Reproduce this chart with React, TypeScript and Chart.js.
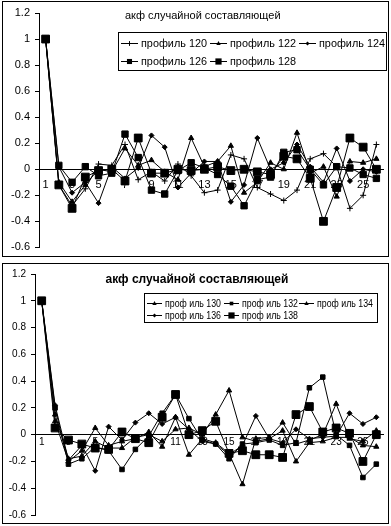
import React, { useEffect, useRef } from 'react';
import { Chart, registerables } from 'chart.js';

Chart.register(...registerables);

const FONT = '"Liberation Sans", Arial, sans-serif';

// Categories (lag numbers)
const categories = ['1','2','3','4','5','6','7','8','9','10','11','12','13','14','15','16','17','18','19','20','21','22','23','24','25','26'];

// Y-axis tick labels (both charts)
const yTickLabels = ['-0.6','-0.4','-0.2','0','0.2','0.4','0.6','0.8','1','1.2'];

// Top chart titles / series names
const topTitle = 'акф случайной составляющей';
const topNames = ['профиль 120', 'профиль 122', 'профиль 124', 'профиль 126', 'профиль 128'];
const p120 = [1, -0.12, -0.28, -0.15, 0.04, 0.03, 0.19, -0.08, -0.02, -0.09, 0.04, -0.05, -0.18, -0.16, 0.11, 0.08, -0.14, -0.19, -0.24, -0.16, 0.08, 0.12, 0.02, -0.30, -0.20, 0.19];
const p122 = [1, -0.10, -0.25, -0.12, 0.0, -0.02, 0.16, 0.03, 0.07, -0.02, -0.08, 0.24, 0.02, 0.06, 0.18, -0.18, -0.10, 0.05, 0.0, 0.28, -0.03, 0.02, -0.21, 0.06, 0.05, 0.08];
const p124 = [1, 0.02, -0.18, -0.10, -0.26, 0.02, -0.07, 0.01, 0.26, 0.17, -0.14, -0.03, 0.06, 0.06, -0.25, -0.12, 0.24, 0.0, 0.05, 0.19, 0.02, -0.10, 0.16, -0.09, 0.0, -0.02];
const p126 = [1, 0.03, -0.10, 0.02, -0.05, -0.03, 0.27, 0.09, -0.16, -0.19, -0.01, 0.05, 0.01, -0.04, -0.13, -0.28, -0.08, -0.06, 0.13, 0.15, 0.0, -0.12, 0.02, 0.01, -0.04, -0.07];
const p128 = [1, -0.12, -0.30, -0.06, -0.01, 0.0, -0.09, 0.24, -0.03, -0.03, 0.0, -0.01, 0.0, 0.02, -0.01, 0.0, -0.02, -0.04, 0.10, 0.08, -0.07, -0.40, -0.14, 0.24, 0.17, 0.0];

// Bottom chart
const bottomTitle = 'акф случайной составляющей';
const bottomNames = ['проф иль 130', 'проф иль 132', 'проф иль 134', 'проф иль 136', 'проф иль 138'];
const p130 = [1, 0.10, -0.20, -0.12, 0.05, -0.08, -0.05, -0.03, 0.02, -0.09, 0.13, -0.15, -0.03, -0.06, -0.14, -0.37, -0.03, -0.02, 0.09, -0.07, -0.04, 0.0, 0.23, -0.03, -0.05, 0.03];
const p132 = [1, 0.20, -0.22, -0.18, -0.09, -0.12, -0.26, -0.11, -0.01, 0.16, 0.30, 0.12, -0.04, -0.07, -0.18, -0.07, -0.06, -0.04, -0.08, -0.06, 0.35, 0.43, 0.0, -0.08, -0.32, -0.22];
const p134 = [1, 0.15, -0.18, -0.16, -0.05, -0.10, -0.10, -0.02, 0.0, -0.05, 0.04, 0.05, 0.0, 0.15, 0.33, -0.02, -0.05, -0.03, 0.03, -0.20, -0.06, -0.05, -0.02, -0.02, -0.08, -0.09];
const p136 = [1, 0.22, -0.19, -0.08, -0.27, 0.06, -0.04, 0.09, 0.16, 0.08, 0.13, 0.04, -0.05, -0.07, -0.15, -0.08, 0.14, -0.03, -0.06, 0.04, -0.03, -0.02, -0.01, 0.16, 0.08, 0.13];
const p138 = [1, 0.05, -0.04, -0.07, -0.10, -0.11, 0.02, -0.03, -0.06, 0.13, 0.30, 0.0, 0.03, 0.10, -0.14, -0.12, -0.15, -0.15, -0.17, 0.15, 0.21, 0.02, 0.05, 0.01, -0.20, 0.0];

type Marker = { style: string; r: number };

function drawMarker(ctx: CanvasRenderingContext2D, style: string, r: number, x: number, y: number) {
  ctx.save();
  ctx.fillStyle = '#000';
  ctx.strokeStyle = '#000';
  ctx.lineWidth = 1;
  ctx.beginPath();
  if (style === 'rect') {
    const s = Math.SQRT1_2 * r;
    ctx.rect(x - s, y - s, 2 * s, 2 * s);
    ctx.fill();
  } else if (style === 'triangle') {
    ctx.moveTo(x, y - r);
    ctx.lineTo(x + r * 0.9, y + r * 0.6);
    ctx.lineTo(x - r * 0.9, y + r * 0.6);
    ctx.closePath();
    ctx.fill();
  } else if (style === 'rectRot') {
    ctx.moveTo(x, y - r);
    ctx.lineTo(x + r, y);
    ctx.lineTo(x, y + r);
    ctx.lineTo(x - r, y);
    ctx.closePath();
    ctx.fill();
  } else if (style === 'cross') {
    ctx.moveTo(x - r, y);
    ctx.lineTo(x + r, y);
    ctx.moveTo(x, y - r);
    ctx.lineTo(x, y + r);
    ctx.stroke();
  } else {
    ctx.arc(x, y, r, 0, Math.PI * 2);
    ctx.fill();
  }
  ctx.restore();
}

type Deco = {
  frame: [number, number, number, number];
  title: string;
  titleFont: string;
  titleX: number;
  titleY: number;
  titleAlign: CanvasTextAlign;
  legendBox: [number, number, number, number];
  legendCols: number[];
  legendRows: number[];
  sampleLen: number;
  legendFont: string;
  textMaxWidth: number;
  names: string[];
  markers: Marker[];
};

function decoPlugin(d: Deco) {
  return {
    id: 'deco',
    beforeDraw(chart: any) {
      const ctx: CanvasRenderingContext2D = chart.ctx;
      ctx.save();
      ctx.fillStyle = '#fff';
      ctx.fillRect(0, 0, chart.width, chart.height);
      ctx.strokeStyle = '#000';
      ctx.lineWidth = 1;
      ctx.strokeRect(d.frame[0], d.frame[1], d.frame[2], d.frame[3]);
      ctx.restore();
    },
    afterDraw(chart: any) {
      const ctx: CanvasRenderingContext2D = chart.ctx;
      ctx.save();
      ctx.fillStyle = '#000';
      ctx.font = d.titleFont;
      ctx.textAlign = d.titleAlign;
      ctx.textBaseline = 'middle';
      ctx.fillText(d.title, d.titleX, d.titleY);
      const [bx, by, bw, bh] = d.legendBox;
      ctx.fillStyle = '#fff';
      ctx.fillRect(bx, by, bw, bh);
      ctx.strokeStyle = '#000';
      ctx.lineWidth = 1;
      ctx.strokeRect(bx, by, bw, bh);
      ctx.font = d.legendFont;
      ctx.textAlign = 'left';
      d.names.forEach((name, i) => {
        const col = i % d.legendCols.length;
        const row = Math.floor(i / d.legendCols.length);
        const x = d.legendCols[col];
        const y = d.legendRows[row];
        ctx.strokeStyle = '#000';
        ctx.beginPath();
        ctx.moveTo(x, y + 0.5);
        ctx.lineTo(x + d.sampleLen, y + 0.5);
        ctx.stroke();
        drawMarker(ctx, d.markers[i].style, d.markers[i].r * 0.8, x + d.sampleLen / 2, y + 0.5);
        ctx.fillStyle = '#000';
        ctx.fillText(name, x + d.sampleLen + 3, y + 1, d.textMaxWidth);
      });
      ctx.restore();
    },
  };
}

function makeDatasets(series: number[][], names: string[], markers: Marker[]) {
  return series.map((data, i) => ({
    label: names[i],
    data,
    borderColor: '#000',
    borderWidth: 1,
    backgroundColor: '#000',
    pointStyle: markers[i].style,
    pointRadius: markers[i].r,
    pointBorderWidth: 1,
    pointBorderColor: '#000',
    pointBackgroundColor: '#000',
    tension: 0,
  }));
}

function fmt(v: number) {
  const r = Math.round(v * 10) / 10;
  const s = String(r === 0 ? 0 : r);
  return yTickLabels.includes(s) ? s : s;
}

function makeConfig(opts: {
  series: number[][];
  names: string[];
  markers: Marker[];
  deco: Deco;
  padding: { top: number; bottom: number; right: number; left: number };
  yWidth: number;
  tickFontSize: number;
  xPad: number;
}) {
  return {
    type: 'line' as const,
    data: { labels: categories, datasets: makeDatasets(opts.series, opts.names, opts.markers) },
    options: {
      animation: false as const,
      responsive: false,
      maintainAspectRatio: false,
      layout: { padding: opts.padding },
      plugins: { legend: { display: false }, tooltip: { enabled: false }, title: { display: false } },
      elements: { line: { tension: 0 } },
      scales: {
        x: {
          type: 'category' as const,
          offset: true,
          position: { y: 0 },
          grid: { display: true, drawOnChartArea: false, drawTicks: false },
          border: { display: true, color: '#000', width: 1 },
          ticks: {
            autoSkip: false,
            maxRotation: 0,
            padding: opts.xPad,
            color: '#000',
            font: { family: FONT, size: opts.tickFontSize },
            callback: (_v: any, i: number) => (i % 2 === 0 ? categories[i] : ''),
          },
        },
        y: {
          min: -0.6,
          max: 1.2,
          ticks: {
            stepSize: 0.2,
            color: '#000',
            padding: 5,
            font: { family: FONT, size: opts.tickFontSize },
            callback: (v: any) => fmt(Number(v)),
          },
          grid: { display: true, drawOnChartArea: false, drawTicks: true, tickLength: 4, color: '#000' },
          border: { display: true, color: '#000', width: 1 },
          afterFit: (s: any) => { s.width = opts.yWidth; },
        },
      },
    },
    plugins: [decoPlugin(opts.deco)],
  };
}

export default function App() {
  const topRef = useRef<HTMLCanvasElement>(null);
  const botRef = useRef<HTMLCanvasElement>(null);

  useEffect(() => {
    document.body.style.margin = '0';
    const topMarkers: Marker[] = [
      { style: 'cross', r: 3 },
      { style: 'triangle', r: 3 },
      { style: 'rectRot', r: 2.5 },
      { style: 'rect', r: 4.5 },
      { style: 'rect', r: 5.5 },
    ];
    const botMarkers: Marker[] = [
      { style: 'triangle', r: 3 },
      { style: 'rect', r: 3.2 },
      { style: 'triangle', r: 3 },
      { style: 'rectRot', r: 2.5 },
      { style: 'rect', r: 5.5 },
    ];
    const c1 = new Chart(topRef.current as HTMLCanvasElement, makeConfig({
      series: [p120, p122, p124, p126, p128],
      names: topNames,
      markers: topMarkers,
      padding: { top: 13, bottom: 11, right: 8, left: 0 },
      yWidth: 39,
      tickFontSize: 11,
      xPad: 9,
      deco: {
        frame: [2.5, 1.5, 386, 255],
        title: topTitle,
        titleFont: `11px ${FONT}`,
        titleX: 125,
        titleY: 16,
        titleAlign: 'left',
        legendBox: [118.5, 32.5, 268, 38],
        legendCols: [121, 210, 299],
        legendRows: [43, 61],
        sampleLen: 17,
        legendFont: `11px ${FONT}`,
        textMaxWidth: 66,
        names: topNames,
        markers: topMarkers,
      },
    }) as any);
    const c2 = new Chart(botRef.current as HTMLCanvasElement, makeConfig({
      series: [p130, p132, p134, p136, p138],
      names: bottomNames,
      markers: botMarkers,
      padding: { top: 13, bottom: 10, right: 8, left: 0 },
      yWidth: 35,
      tickFontSize: 10,
      xPad: 2,
      deco: {
        frame: [2.5, 2.5, 386, 260],
        title: bottomTitle,
        titleFont: `bold 12px ${FONT}`,
        titleX: 197,
        titleY: 19,
        titleAlign: 'center',
        legendBox: [144.5, 32.5, 233, 29],
        legendCols: [147, 224, 299],
        legendRows: [42, 54],
        sampleLen: 15,
        legendFont: `10px ${FONT}`,
        textMaxWidth: 56,
        names: bottomNames,
        markers: botMarkers,
      },
    }) as any);
    return () => { c1.destroy(); c2.destroy(); };
  }, []);

  return (
    <div style={{ position: 'fixed', left: 0, top: 0, width: 391, height: 526, background: '#fff' }}>
      <canvas ref={topRef} width={391} height={259} style={{ position: 'absolute', left: 0, top: 0, width: 391, height: 259 }} />
      <canvas ref={botRef} width={391} height={265} style={{ position: 'absolute', left: 0, top: 261, width: 391, height: 265 }} />
    </div>
  );
}
